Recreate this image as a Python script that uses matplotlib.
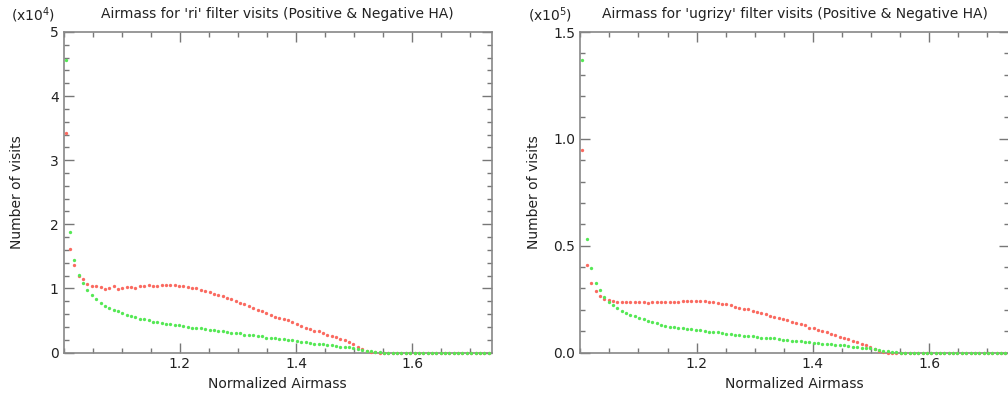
import numpy as np
import matplotlib
matplotlib.use('Agg')
import matplotlib.pyplot as plt
from matplotlib.ticker import MultipleLocator

# Bins de airmass normalizado (98 bins)
airmass = 1.00375 + 0.0075 * np.arange(98)

# Filtro 'ri' (unidades de 1e4 visitas)
ri_red = [3.42, 1.62, 1.36, 1.19, 1.14, 1.07, 1.04, 1.03, 1.02, 0.99,
          1.00, 1.03, 0.99, 1.00, 1.02, 1.02, 1.00, 1.03, 1.03, 1.05,
          1.03, 1.04, 1.05, 1.06, 1.06, 1.05, 1.04, 1.03, 1.02, 1.01,
          1.00, 0.98, 0.96, 0.94, 0.92, 0.90, 0.88, 0.85, 0.83, 0.81,
          0.78, 0.75, 0.72, 0.69, 0.67, 0.64, 0.62, 0.59, 0.56, 0.54,
          0.52, 0.50, 0.47, 0.45, 0.42, 0.39, 0.36, 0.34, 0.33, 0.31,
          0.28, 0.26, 0.24, 0.21, 0.20, 0.16, 0.125, 0.09, 0.06, 0.03,
          0.01, 0.003] + [0.0] * 26
ri_green = [4.56, 1.88, 1.45, 1.21, 1.08, 0.97, 0.89, 0.83, 0.78, 0.73,
            0.70, 0.66, 0.64, 0.61, 0.59, 0.57, 0.55, 0.53, 0.52, 0.50,
            0.48, 0.47, 0.46, 0.45, 0.44, 0.43, 0.43, 0.42, 0.40, 0.39,
            0.38, 0.375, 0.37, 0.35, 0.35, 0.34, 0.34, 0.32, 0.31, 0.31,
            0.30, 0.28, 0.27, 0.27, 0.26, 0.25, 0.23, 0.23, 0.22, 0.21,
            0.21, 0.20, 0.19, 0.18, 0.17, 0.16, 0.145, 0.135, 0.13, 0.125,
            0.11, 0.11, 0.10, 0.09, 0.08, 0.08, 0.07, 0.06, 0.04, 0.03,
            0.02, 0.01, 0.005] + [0.0] * 25

# Filtros 'ugrizy' (unidades de 1e5 visitas)
all_red = [0.948, 0.408, 0.327, 0.286, 0.266, 0.252, 0.244, 0.241, 0.238, 0.238,
           0.238, 0.236, 0.236, 0.236, 0.236, 0.234, 0.236, 0.236, 0.236, 0.238,
           0.238, 0.238, 0.238, 0.239, 0.240, 0.241, 0.240, 0.240, 0.241, 0.235,
           0.237, 0.230, 0.226, 0.225, 0.220, 0.214, 0.209, 0.203, 0.202, 0.194,
           0.189, 0.184, 0.180, 0.173, 0.167, 0.161, 0.158, 0.151, 0.144, 0.137,
           0.133, 0.127, 0.116, 0.113, 0.105, 0.100, 0.095, 0.088, 0.081, 0.074,
           0.067, 0.061, 0.055, 0.048, 0.042, 0.034, 0.027, 0.017, 0.008, 0.002] + [0.0] * 28
all_green = [1.367, 0.530, 0.394, 0.327, 0.291, 0.261, 0.238, 0.224, 0.208, 0.195,
             0.186, 0.177, 0.170, 0.163, 0.155, 0.149, 0.144, 0.137, 0.131, 0.125,
             0.120, 0.119, 0.116, 0.113, 0.109, 0.108, 0.105, 0.103, 0.102, 0.098,
             0.097, 0.094, 0.090, 0.088, 0.086, 0.084, 0.081, 0.078, 0.076, 0.076,
             0.073, 0.069, 0.069, 0.067, 0.066, 0.061, 0.059, 0.058, 0.056, 0.053,
             0.052, 0.050, 0.048, 0.045, 0.044, 0.042, 0.041, 0.0375, 0.036, 0.034,
             0.033, 0.030, 0.028, 0.027, 0.023, 0.022, 0.019, 0.017, 0.013, 0.009,
             0.006, 0.003, 0.001] + [0.0] * 25

panels = [
    ("Airmass for 'ri' filter visits (Positive & Negative HA)", ri_red, ri_green,
     r'(x10$^4$)', (0, 5), 1, 0.2, '%d'),
    ("Airmass for 'ugrizy' filter visits (Positive & Negative HA)", all_red, all_green,
     r'(x10$^5$)', (0, 1.5), 0.5, 0.1, '%.1f'),
]

fig = plt.figure(figsize=(10.08, 3.95), dpi=100)
W, H = 1008.0, 395.0
lefts = [63.5, 580.3]

for k, (title, red, green, mult, ylim, ymaj, ymin, fmt) in enumerate(panels):
    ax = fig.add_axes([lefts[k] / W, 42.5 / H, 428.5 / W, 320.5 / H])
    ax.plot(airmass, red, 'o', color='#fa6a60', markersize=2.4, markeredgewidth=0,
            zorder=3, clip_on=False)
    ax.plot(airmass, green, 'o', color='#55e855', markersize=2.4, markeredgewidth=0,
            zorder=3, clip_on=False)
    ax.set_xlim(1.0, 1.737)
    ax.set_ylim(*ylim)
    ax.set_xticks([1.2, 1.4, 1.6])
    ax.xaxis.set_minor_locator(MultipleLocator(0.05))
    ax.yaxis.set_major_locator(MultipleLocator(ymaj))
    ax.yaxis.set_minor_locator(MultipleLocator(ymin))
    ax.yaxis.set_major_formatter(matplotlib.ticker.FormatStrFormatter(fmt))
    ax.tick_params(which='both', direction='in', top=True, right=True,
                   color='#777777', labelsize=10, labelcolor='#222222')
    ax.tick_params(which='major', length=7, width=1)
    ax.tick_params(which='minor', length=3.5, width=1)
    for s in ax.spines.values():
        s.set_color('#888888')
        s.set_linewidth(1.2)
    ax.set_title(title, fontsize=10, color='#222222', pad=10)
    ax.set_xlabel('Normalized Airmass', fontsize=10, color='#222222', labelpad=4)
    ax.set_ylabel('Number of visits', fontsize=10, color='#222222')
    ax.yaxis.set_label_coords(-0.092, 0.5)
    ax.text(-0.02, 1.035, mult, transform=ax.transAxes, ha='right', va='baseline',
            fontsize=10, color='#222222')

fig.savefig('out.png', dpi=100)
